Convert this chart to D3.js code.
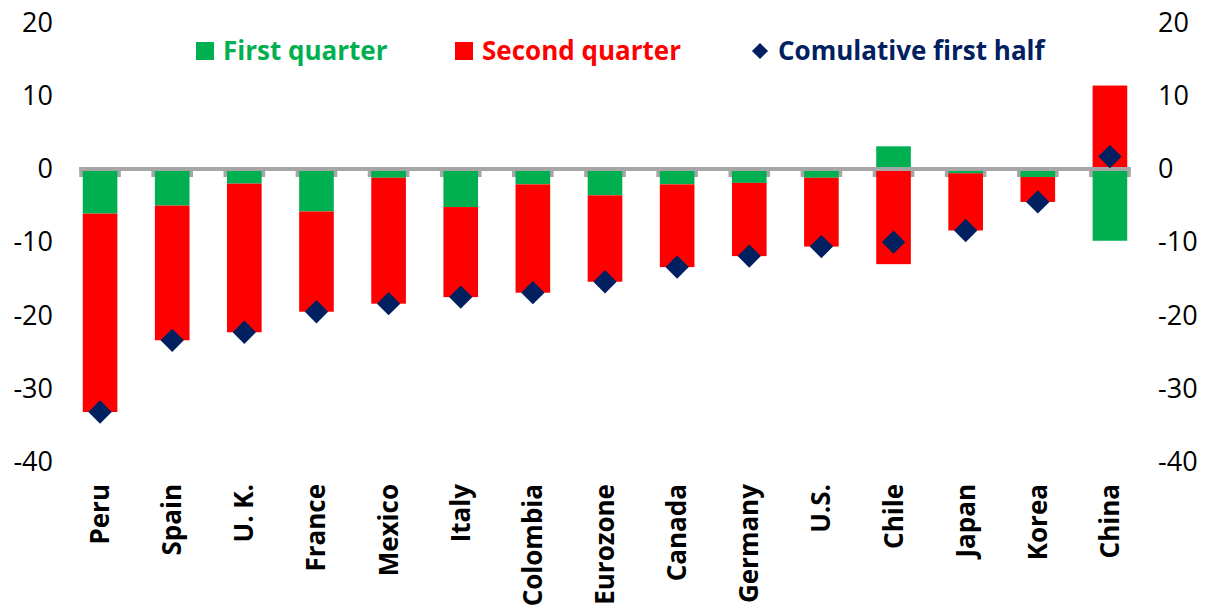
<!DOCTYPE html>
<html>
<head>
<meta charset="utf-8">
<script src="https://cdn.jsdelivr.net/npm/d3@7"></script>
<style>
  body { margin: 0; background: #fff; }
  svg { display: block; }
  text { font-family: "Open Sans", "DejaVu Sans", sans-serif; }
</style>
</head>
<body>
<div id="chart"></div>
<script>
// --- データ ---
const countries = ["Peru", "Spain", "U. K.", "France", "Mexico", "Italy", "Colombia", "Eurozone",
                   "Canada", "Germany", "U.S.", "Chile", "Japan", "Korea", "China"];
const firstQuarter  = [-6.1, -5.0, -2.0, -5.8, -1.2, -5.2, -2.1, -3.6, -2.1, -1.9, -1.2, 3.1, -0.6, -1.1, -9.8];
const secondQuarter = [-27.1, -18.4, -20.3, -13.7, -17.2, -12.3, -14.8, -11.8, -11.3, -10.0, -9.4, -13.0, -7.8, -3.4, 11.4];
const cumulative    = [-33.2, -23.4, -22.3, -19.5, -18.4, -17.5, -16.9, -15.4, -13.4, -11.9, -10.6, -10.0, -8.4, -4.5, 1.7];
const yTicks = [-40, -30, -20, -10, 0, 10, 20];
const legendLabels = ["First quarter", "Second quarter", "Comulative first half"];

const W = 1211, H = 608;
const colors = { q1: "#00B050", q2: "#FF0000", cum: "#002060" };

const svg = d3.select("#chart").append("svg")
  .attr("width", W).attr("height", H);

// --- スケール ---
const x = d3.scaleBand()
  .domain(countries)
  .range([64, 1146])
  .paddingInner(0.52)
  .paddingOuter(0.26);

const y = d3.scaleLinear()
  .domain([-40, 20])
  .range([461.8, 22.6]);

// --- 積み上げ (正負で分岐) ---
const rows = countries.map((c, i) => ({ country: c, q1: firstQuarter[i], q2: secondQuarter[i] }));
const series = d3.stack().keys(["q1", "q2"]).offset(d3.stackOffsetDiverging)(rows);

const bw = x.bandwidth();

// ゼロ線の下のグレーの縁
svg.append("g").selectAll("rect")
  .data(countries)
  .join("rect")
  .attr("x", d => x(d) - 3.5)
  .attr("width", bw + 7)
  .attr("y", y(0) - 2)
  .attr("height", 10)
  .attr("fill", "#A6A6A6");

// バー
svg.append("g").selectAll("g")
  .data(series)
  .join("g")
  .attr("fill", s => colors[s.key])
  .selectAll("rect")
  .data(s => s)
  .join("rect")
  .attr("x", d => x(d.data.country))
  .attr("width", bw)
  .attr("y", d => y(Math.max(d[0], d[1])))
  .attr("height", d => Math.abs(y(d[0]) - y(d[1])));

// ゼロ線
svg.append("line")
  .attr("x1", x(countries[0]) - 3.5)
  .attr("x2", x(countries[countries.length - 1]) + bw + 3.5)
  .attr("y1", y(0)).attr("y2", y(0))
  .attr("stroke", "#A6A6A6")
  .attr("stroke-width", 4);

// 累積 (ひし形)
const diamond = d3.symbol().type(d3.symbolSquare).size(272);
svg.append("g").selectAll("path")
  .data(countries)
  .join("path")
  .attr("d", diamond)
  .attr("transform", (d, i) => `translate(${x(d) + bw / 2},${y(cumulative[i])}) rotate(45)`)
  .attr("fill", colors.cum);

// --- 軸 ---
const fmt = d => String(d); // ハイフンのマイナス記号
const axisL = svg.append("g")
  .attr("transform", "translate(53,0)")
  .call(d3.axisLeft(y).tickValues(yTicks).tickFormat(fmt).tickSize(0).tickPadding(0));
const axisR = svg.append("g")
  .attr("transform", "translate(1158,0)")
  .call(d3.axisRight(y).tickValues(yTicks).tickFormat(fmt).tickSize(0).tickPadding(0));
[axisL, axisR].forEach(a => {
  a.select(".domain").remove();
  a.selectAll("text")
    .attr("font-family", "'Open Sans', sans-serif")
    .attr("font-size", 27)
    .attr("fill", "#000");
});

// カテゴリラベル
svg.append("g").selectAll("text")
  .data(countries)
  .join("text")
  .attr("transform", d => `translate(${x(d) + bw / 2 + 9},484) rotate(-90)`)
  .attr("text-anchor", "end")
  .attr("font-size", 26)
  .attr("font-weight", "bold")
  .attr("fill", "#000")
  .text(d => d);

// --- 凡例 ---
const legendX = [196, 455, 752];
const legendKeys = ["q1", "q2", "cum"];
const legend = svg.append("g").selectAll("g")
  .data(legendLabels)
  .join("g")
  .attr("transform", (d, i) => `translate(${legendX[i]},51)`);

legend.each(function(d, i) {
  const g = d3.select(this);
  const col = colors[legendKeys[i]];
  if (legendKeys[i] === "cum") {
    g.append("path")
      .attr("d", d3.symbol().type(d3.symbolSquare).size(130))
      .attr("transform", "translate(8,0) rotate(45)")
      .attr("fill", col);
    g.append("text").attr("x", 26).attr("dy", "0.35em")
      .attr("font-size", 26).attr("font-weight", "bold").attr("fill", col).text(d);
  } else {
    g.append("rect").attr("x", 0).attr("y", -9).attr("width", 18).attr("height", 18).attr("fill", col);
    g.append("text").attr("x", 27).attr("dy", "0.35em")
      .attr("font-size", 26).attr("font-weight", "bold").attr("fill", col).text(d);
  }
});
</script>
</body>
</html>
